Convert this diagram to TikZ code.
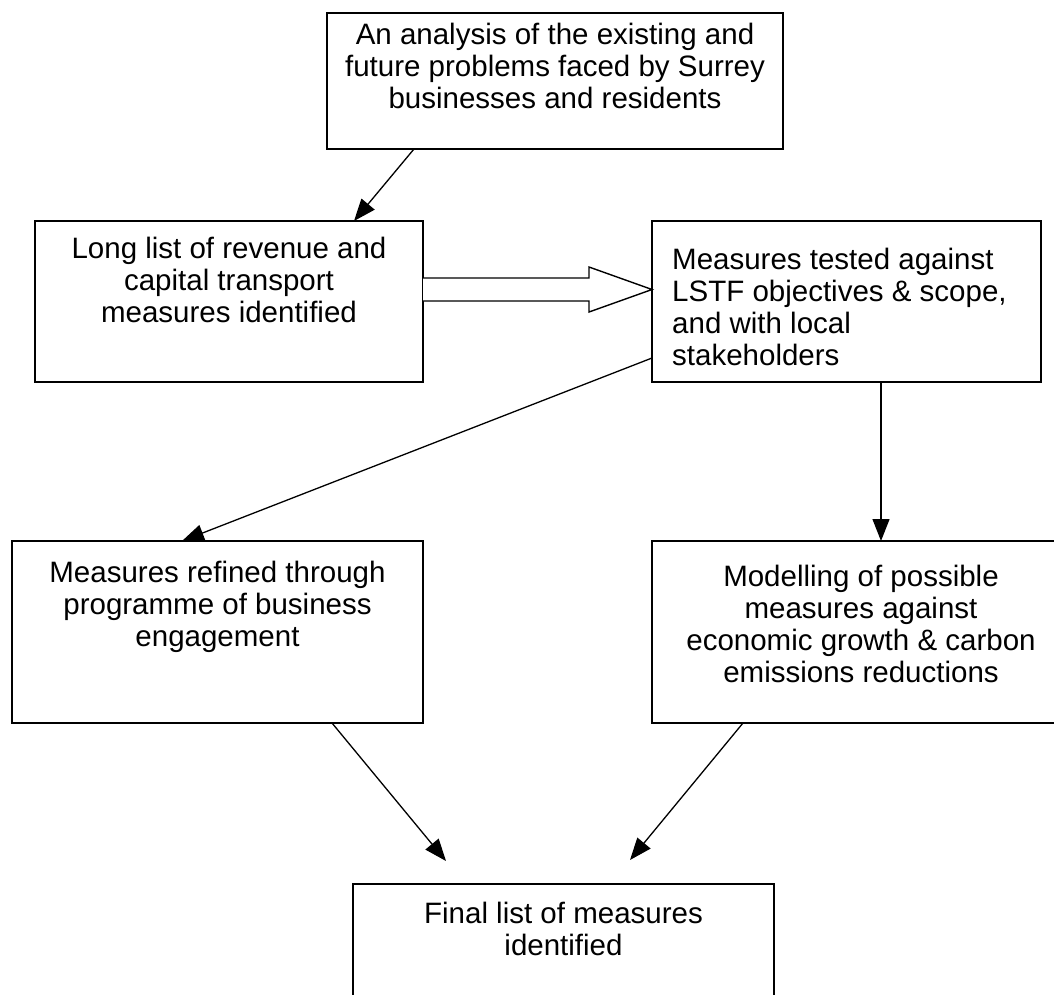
\documentclass[tikz,border=0pt]{standalone}
\usepackage{fontspec}
\setmainfont{Liberation Sans}
\usetikzlibrary{arrows.meta,calc}
\begin{document}
\begin{tikzpicture}[x=1pt,y=-1pt,
  box/.style={draw=black,line width=1.6pt,fill=none,inner sep=0pt,outer sep=0pt},
  txt/.style={inner sep=0pt,font=\fontsize{29.5pt}{32pt}\selectfont,align=center},
  arr/.style={line width=1.3pt,-{Triangle[length=22pt,width=17pt]}},
  blk/.style={line width=1.4pt,fill=white,line join=miter}]
\useasboundingbox (0,0) rectangle (1054,994);
\clip (0,0) rectangle (1054,994);
% boxes
\node[box,minimum width=456pt,minimum height=136pt] (top) at (555,81) {};
\node[box,minimum width=388pt,minimum height=161pt] (ll) at (229,301.5) {};
\node[box,minimum width=389pt,minimum height=161pt] (tt) at (846.5,301.5) {};
\node[box,minimum width=411pt,minimum height=182pt] (rf) at (217.5,632) {};
\node[box,minimum width=418pt,minimum height=182pt] (md) at (861,632) {};
\node[box,minimum width=421pt,minimum height=166pt] (fn) at (563.5,967) {};
% texts
\node[txt,anchor=north] (toptext) at (555,23) {An analysis of the existing and\\future problems faced by Surrey\\businesses and residents};
\node[txt,anchor=north] (lltxt) at (229,237) {Long list of revenue and\\capital transport\\measures identified};
\node[txt,anchor=north west,align=left] (tttxt) at (672,248) {Measures tested against\\LSTF objectives \& scope,\\and with local\\stakeholders};
\node[txt,anchor=north] (rftxt) at (217.5,561) {Measures refined through\\programme of business\\engagement};
\node[txt,anchor=north] (mdtxt) at (861,565) {Modelling of possible\\measures against\\economic growth \& carbon\\emissions reductions};
\node[txt,anchor=north] (fntxt) at (563.5,902) {Final list of measures\\identified};
% connectors
\draw[arr] ([xshift=-141pt]top.south) -- ([xshift=125pt]ll.north);
\coordinate (ba1) at (ll.east |- 0,278);
\coordinate (ba2) at (ll.east |- 0,301);
\coordinate (btip) at (tt.west |- 0,289.5);
\draw[blk] (ba1) -- (589,278) -- (589,267) -- (btip) -- (589,312) -- (589,301) -- (ba2);
\draw[arr] ([yshift=-56.5pt]tt.west) -- ([xshift=-35.5pt]rf.north);
\draw[arr] ([xshift=34.5pt]tt.south) -- ([xshift=34.5pt]tt.south |- md.north);
\draw[arr] ([xshift=114.5pt]rf.south) -- ([xshift=-117.5pt,yshift=23pt]fn.north);
\draw[arr] ([xshift=-118pt]md.south) -- ([xshift=66.5pt,yshift=24pt]fn.north);
\end{tikzpicture}
\end{document}
